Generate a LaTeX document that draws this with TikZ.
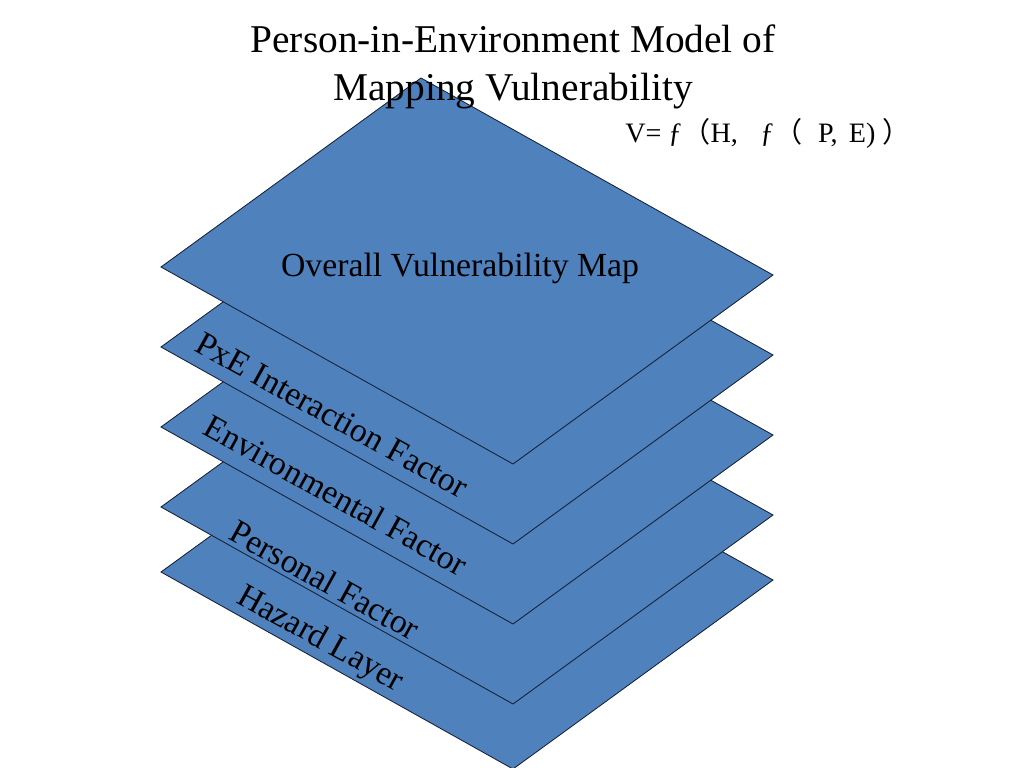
\documentclass[tikz,border=0pt]{standalone}
\usepackage{fontspec}
\setmainfont{Liberation Serif}
\newfontfamily\cjkparen{Noto Sans CJK SC}
\usetikzlibrary{positioning}
\definecolor{layerblue}{RGB}{79,129,189}
\definecolor{layeredge}{RGB}{22,32,52}

\begin{document}
\begin{tikzpicture}[x=0.025cm, y=-0.025cm,
    layer/.style={fill=layerblue, draw=layeredge, line width=0.6pt, line join=miter},
    tag/.style={font=\fontsize{24}{28}\selectfont, inner sep=0pt},
    sidetag/.style={tag, rotate=-29}]

    \useasboundingbox (0,0) rectangle (1024,768);

    % Layers, the lowest one first
    \foreach \dy/\name in {305/hazard, 240/personal, 160/env, 80/pxe, 0/overall} {
        \coordinate (\name-l) at (161,267+\dy);
        \coordinate (\name-t) at (421,78+\dy);
        \coordinate (\name-r) at (773,275+\dy);
        \coordinate (\name-b) at (513,464+\dy);
        \draw[layer] (\name-l) -- (\name-t) -- (\name-r) -- (\name-b) -- cycle;
    }

    % Layer labels
    \node[tag] (overall-label) at (460,268) {Overall Vulnerability Map};
    \node[sidetag] (pxe-label) at (332,415) {PxE Interaction Factor};
    \node[sidetag] (env-label) at (336,495) {Environmental Factor};
    \node[sidetag] (personal-label) at (325,580) {Personal Factor};
    \node[sidetag] (hazard-label) at (320,640) {Hazard Layer};

    % Title and formula
    \node[font=\fontsize{28}{34}\selectfont, align=center, inner sep=0pt] (title) at (513,67)
        {Person-in-Environment Model of\\Mapping Vulnerability};
    \node[font=\fontsize{20}{24}\selectfont, anchor=base west, inner sep=0pt] (formula) at (625,143)
        {V= ƒ{\cjkparen （}H,\hspace{0.8em}ƒ{\cjkparen （}\hspace{0.55em}P,\hspace{0.4em}E) {\cjkparen ）}};

\end{tikzpicture}
\end{document}
